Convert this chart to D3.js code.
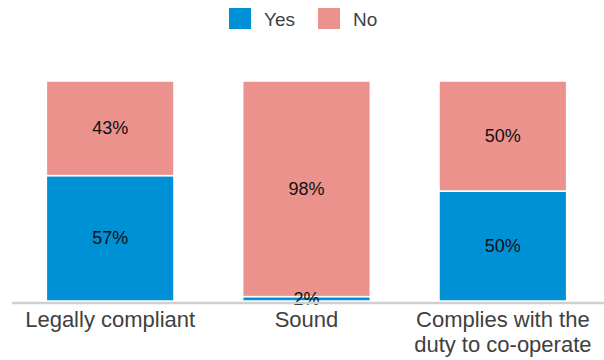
<!DOCTYPE html>
<html>
<head>
<meta charset="utf-8">
<script src="https://cdn.jsdelivr.net/npm/d3@7"></script>
<style>
  html, body { margin: 0; padding: 0; background: #fff; }
  svg { display: block; font-family: "Liberation Sans", Arial, sans-serif; }
</style>
</head>
<body>
<svg id="chart" width="604" height="360"></svg>
<script>
// Share of responses per test, stacked to 100%
const categories = [["Legally compliant"], ["Sound"], ["Complies with the", "duty to co-operate"]];
const seriesNames = ["Yes", "No"];
const yesValues = [57, 2, 50];
const noValues = [43, 98, 50];
const colors = ["#0090d5", "#ec928c"];

const svg = d3.select("#chart");
const W = 604, H = 360;
const margin = { top: 81, right: 3, bottom: 59, left: 12 };
const plotBottom = H - margin.bottom;

const keys = categories.map(c => c.join(" "));
const rows = keys.map((k, i) => ({ key: k, Yes: yesValues[i], No: noValues[i] }));

const x = d3.scaleBand()
  .domain(keys)
  .range([margin.left, W - margin.right])
  .paddingInner(0.35)
  .paddingOuter(0.175);

const y = d3.scaleLinear()
  .domain([0, 100])
  .range([plotBottom, margin.top]);

const stacked = d3.stack().keys(seriesNames)(rows);

// Bars
const layers = svg.append("g")
  .selectAll("g")
  .data(stacked)
  .join("g")
  .attr("fill", (d, i) => colors[i]);

layers.selectAll("rect")
  .data(d => d)
  .join("rect")
  .attr("x", d => x(d.data.key))
  .attr("width", x.bandwidth())
  .attr("y", d => y(d[1]))
  .attr("height", d => y(d[0]) - y(d[1]))
  .attr("stroke", "#fff")
  .attr("stroke-width", 1.5);

// Value labels in the middle of each segment
svg.append("g")
  .selectAll("g")
  .data(stacked)
  .join("g")
  .selectAll("text")
  .data(d => d.map(s => ({ s, v: s[1] - s[0] })))
  .join("text")
  .attr("x", d => x(d.s.data.key) + x.bandwidth() / 2)
  .attr("y", d => (y(d.s[0]) + y(d.s[1])) / 2)
  .attr("text-anchor", "middle")
  .attr("dominant-baseline", "central")
  .attr("font-size", 18)
  .attr("fill", "#111")
  .text(d => d.v + "%");

// Baseline
svg.append("line")
  .attr("x1", margin.left)
  .attr("x2", W)
  .attr("y1", plotBottom + 2)
  .attr("y2", plotBottom + 2)
  .attr("stroke", "#d0d0d0")
  .attr("stroke-width", 2.5);

// Category labels (x axis)
const xAxis = d3.axisBottom(x).tickSize(0).tickFormat(() => "");
const axisG = svg.append("g")
  .attr("transform", `translate(0,${plotBottom + 3})`)
  .call(xAxis);
axisG.select(".domain").remove();
axisG.selectAll(".tick text").remove();
axisG.selectAll(".tick")
  .append("text")
  .attr("text-anchor", "middle")
  .attr("fill", "#404040")
  .attr("font-size", 22)
  .selectAll("tspan")
  .data((d, i) => categories[i])
  .join("tspan")
  .attr("x", 0)
  .attr("y", (d, i) => 23 + i * 25)
  .text(d => d);

// Legend
const legendItems = [
  { name: seriesNames[0], x: 229 },
  { name: seriesNames[1], x: 318 }
];
const legend = svg.append("g")
  .selectAll("g")
  .data(legendItems)
  .join("g")
  .attr("transform", d => `translate(${d.x},8)`);
legend.append("rect")
  .attr("width", 22)
  .attr("height", 21)
  .attr("fill", (d, i) => colors[i]);
legend.append("text")
  .attr("x", 35)
  .attr("y", 18)
  .attr("fill", "#404040")
  .attr("font-size", 19)
  .text(d => d.name);
</script>
</body>
</html>
